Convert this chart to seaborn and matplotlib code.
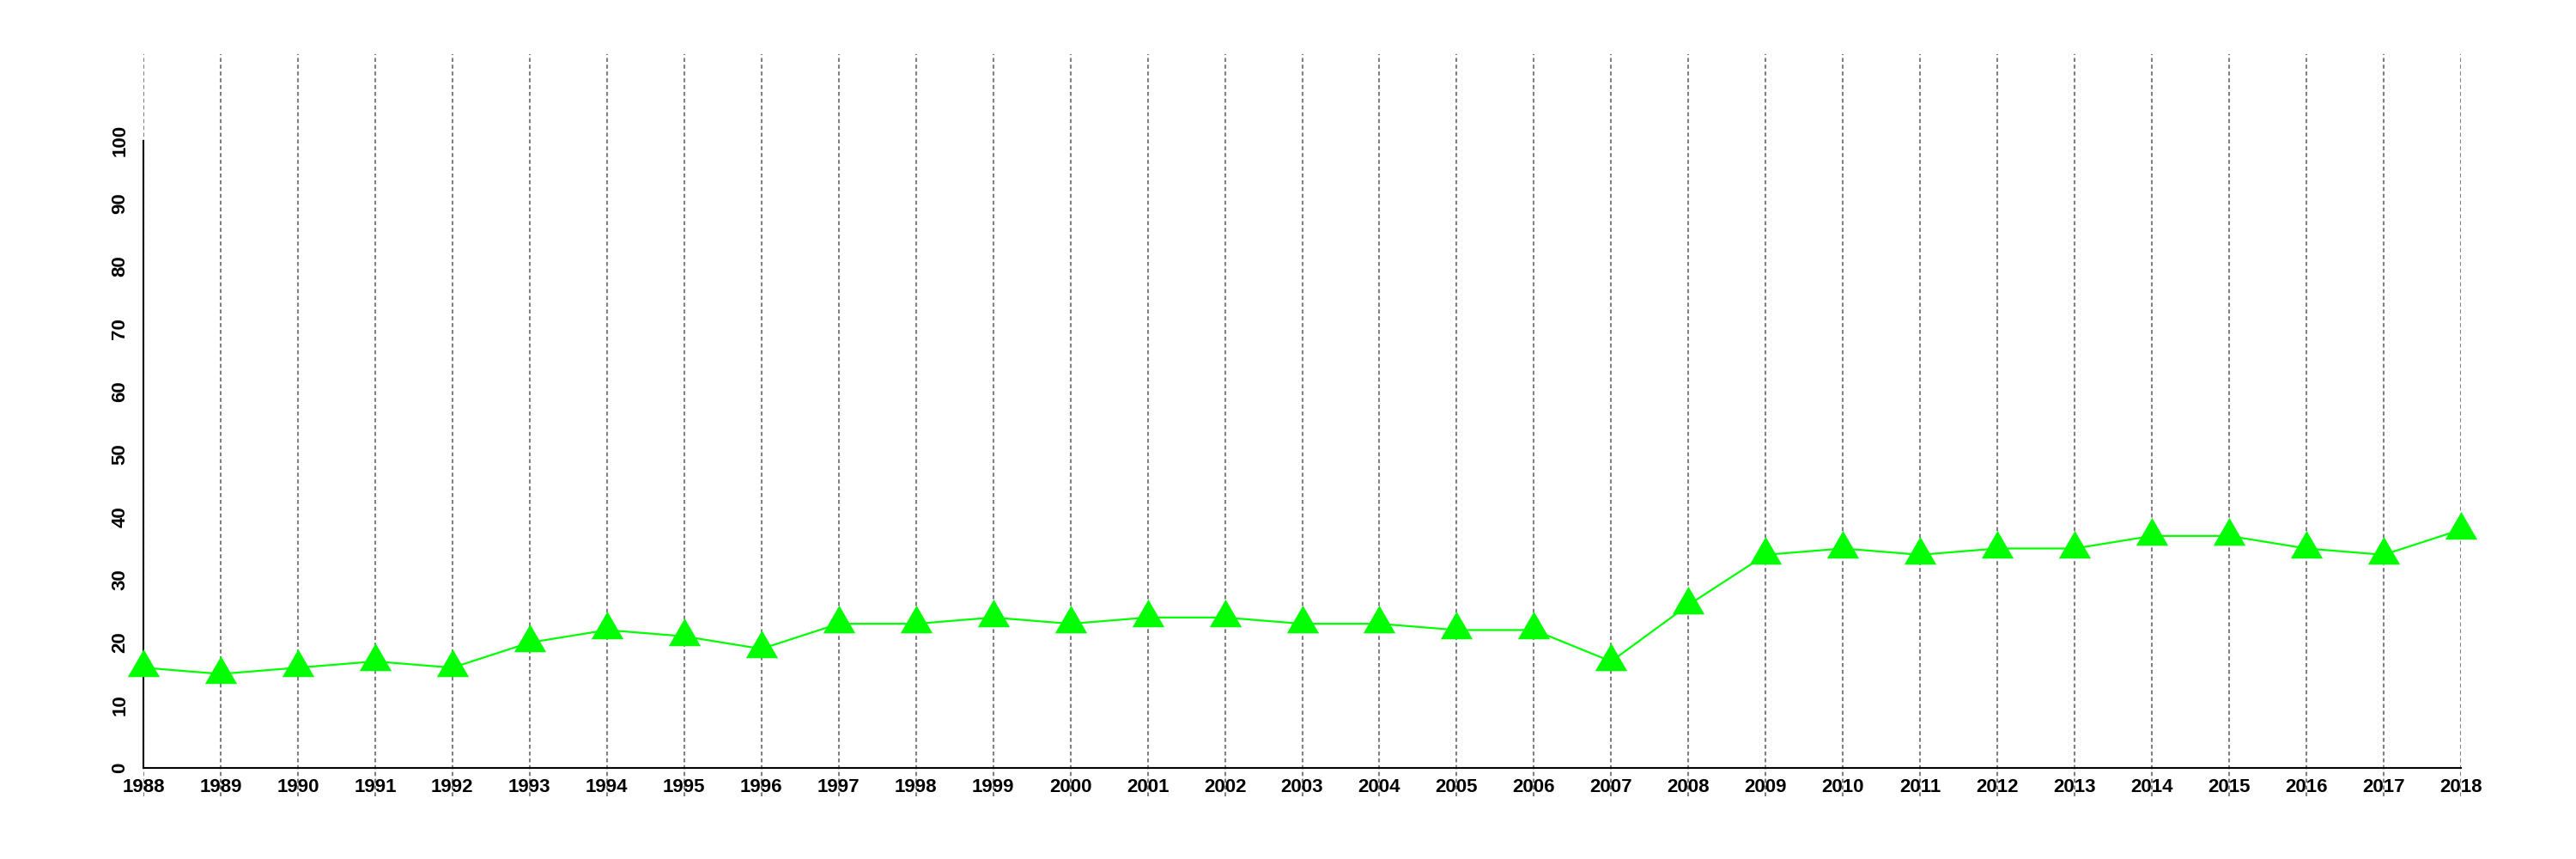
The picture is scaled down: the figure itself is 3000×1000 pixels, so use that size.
import matplotlib
matplotlib.use('Agg')
import matplotlib.pyplot as plt
import seaborn as sns

# data
years = list(range(1988, 2019))
values = [16, 15, 16, 17, 16, 20, 22, 21, 19, 23, 23, 24, 23, 24, 24, 23,
          23, 22, 22, 17, 26, 34, 35, 34, 35, 35, 37, 37, 35, 34, 38]
y_ticks = list(range(0, 101, 10))

sns.set_style('white')
plt.rcParams['font.family'] = ['Liberation Sans', 'DejaVu Sans']
plt.rcParams['font.weight'] = 'bold'

fig = plt.figure(figsize=(30, 10), dpi=100)
ax = fig.add_axes([167 / 3000, 0.073, 2699 / 3000, 0.864])

# equilateral triangle, centred on its centroid
tri = [(0, 1), (-0.866, -0.5), (0.866, -0.5)]
sns.lineplot(x=years, y=values, ax=ax, color='#00ff00', lw=1.6,
             marker=tri, markersize=31, markeredgewidth=0,
             markerfacecolor='#00ff00', clip_on=False, zorder=3)

ax.set_xlim(1988, 2018)
ax.set_ylim(-4.5, 113.8)
ax.set_xticks(years)
ax.set_xticklabels([str(y) for y in years])
ax.set_yticks(y_ticks)
ax.set_yticklabels([str(v) for v in y_ticks], rotation=90, va='center')
for lab in ax.get_xticklabels() + ax.get_yticklabels():
    lab.set_fontsize(16)
    lab.set_fontweight('bold')

ax.xaxis.grid(True, color='#808080', linestyle=(0, (2.2, 1.6)), lw=1.5)
ax.yaxis.grid(False)
ax.set_axisbelow(True)

for s in ['top', 'right']:
    ax.spines[s].set_visible(False)
ax.spines['bottom'].set_position(('data', 0))
ax.spines['bottom'].set_bounds(1988, 2018)
ax.spines['left'].set_bounds(0, 100)
for s in ['bottom', 'left']:
    ax.spines[s].set_linewidth(1.5)
    ax.spines[s].set_color('black')

ax.tick_params(axis='both', direction='out', length=5.5, width=1.5,
               colors='black', labelsize=16, pad=3)
ax.tick_params(axis='y', pad=6.5)
ax.set_xlabel('')
ax.set_ylabel('')

fig.savefig('out.png', dpi=100, facecolor='white')
